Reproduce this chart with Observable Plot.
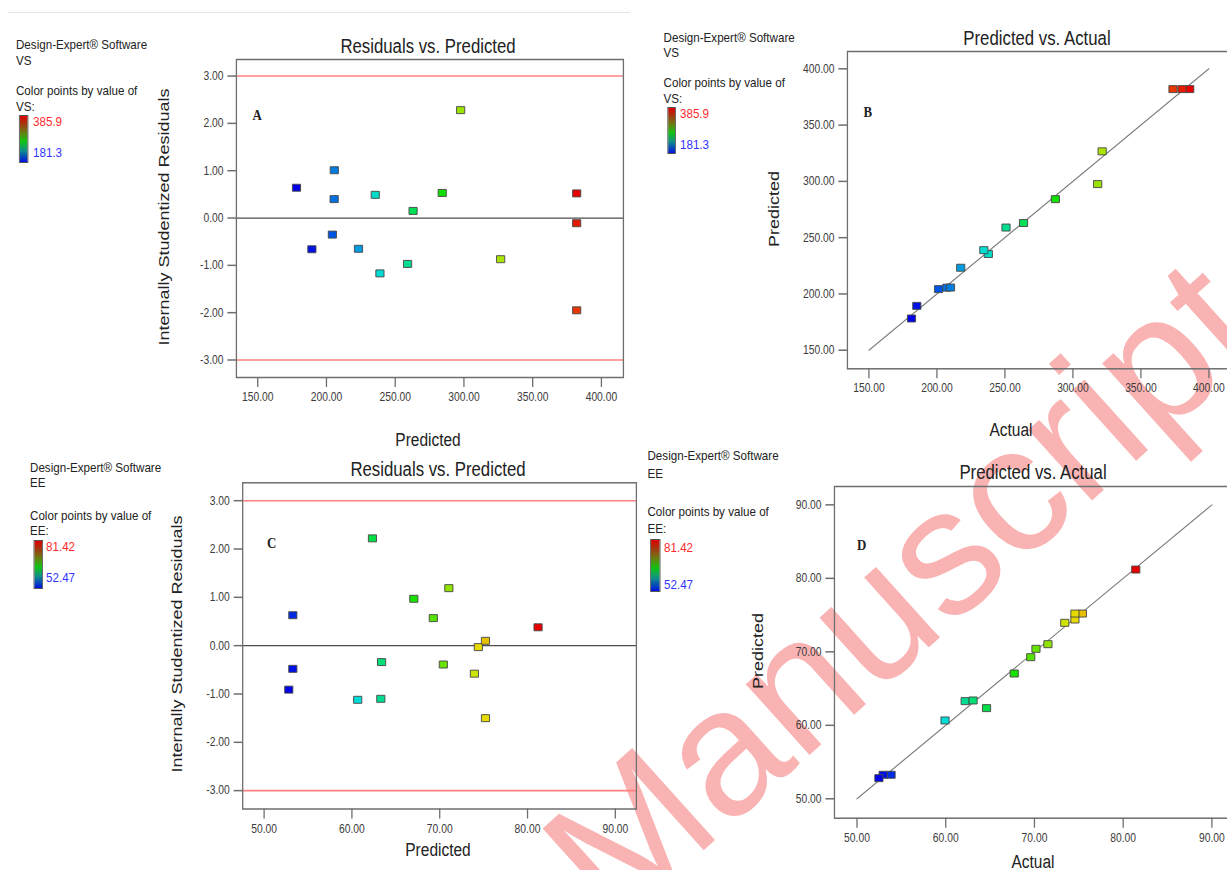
<!DOCTYPE html>
<html><head><meta charset="utf-8">
<script src="https://cdn.jsdelivr.net/npm/d3@7"></script>
<script src="https://cdn.jsdelivr.net/npm/@observablehq/plot@0.6"></script>
<style>
html,body{margin:0;padding:0;background:#fff;width:1227px;height:870px;overflow:hidden;position:relative;}
#sep{position:absolute;left:8px;top:12px;width:622px;height:1px;background:#e4e4e4;}
#wm{position:absolute;left:900px;top:590px;transform:translate(-50%,-50%) rotate(-42deg);font:180px "Liberation Sans",Arial,sans-serif;color:#f9b3b3;white-space:nowrap;z-index:0;line-height:1;}
#stage{position:absolute;left:0;top:0;width:1427px;height:870px;transform:scaleX(0.86);transform-origin:0 0;z-index:1;font-family:"Liberation Sans",Arial,sans-serif;color:#222;}
.t{position:absolute;white-space:nowrap;line-height:1;}
.c{transform:translate(-50%,-50%);}
.l{transform:translateY(-50%);}
.r{transform:translate(-50%,-50%) rotate(-90deg);}
.bar{position:absolute;background:linear-gradient(to bottom,#e00000 0%,#a03a10 18%,#6e7a10 35%,#10c410 55%,#10908a 75%,#0010e0 100%);border:1px solid #555;box-sizing:border-box;}
</style></head><body>
<div id="sep"></div>
<div id="wm">Manuscript</div>
<div id="stage"></div>
<script>
// ---- data: VS ----
const vsActual    = [181.3, 185.2, 201.2, 207.3, 210.0, 217.5, 237.8, 234.5, 250.8, 263.7, 287.1, 318.2, 321.5, 385.9, 380.2, 373.6];
const vsPredicted = [178.2, 189.4, 204.3, 205.6, 205.7, 223.3, 235.5, 238.9, 259.0, 263.0, 284.2, 297.6, 326.7, 382.0, 382.0, 382.0];
const vsResidual  = [0.64, -0.66, -0.35, 0.40, 1.01, -0.65, 0.49, -1.17, -0.97, 0.15, 0.53, 2.28, -0.87, 0.52, -0.11, -1.95];
// ---- data: EE ----
const eeActual    = [53.84, 52.95, 52.47, 59.92, 64.60, 62.19, 63.08, 67.72, 69.58, 70.17, 71.52, 73.42, 74.56, 75.40, 74.56, 81.42];
const eePredicted = [53.27, 53.27, 52.81, 60.66, 62.34, 63.29, 63.38, 67.05, 69.27, 70.41, 71.04, 73.95, 74.40, 75.21, 75.21, 81.20];
const eeResidual  = [0.63, -0.48, -0.91, -1.12, 2.22, -1.10, -0.34, 0.97, 0.57, -0.39, 1.19, -0.58, -0.03, 0.10, -1.50, 0.38];
// ---- ticks & reference lines ----
const vsTicks = [150, 200, 250, 300, 350, 400];
const eeTicks = [50, 60, 70, 80, 90];
const residTicks = [-3, -2, -1, 0, 1, 2, 3];
const limitLines = [-3, 3];
const zeroLine = [0];
const vsDiagonal = [150, 400];
const eeDiagonal = [50, 90];
const rampColors = ["#0000e6", "#00dcdc", "#00e000", "#e6e600", "#e60000"];

const stage = document.getElementById("stage");
const ramp = d3.piecewise(d3.interpolateRgb, rampColors);
const fmt = d => d.toFixed(2);
const rectSym = {draw(ctx) { ctx.rect(-4.75, -3.5, 9.5, 7); }};

function panel(o) {
  const rows = o.xs.map((x, i) => ({x, y: o.ys[i], c: o.cs[i]}));
  const svg = Plot.plot({
    width: o.width, height: o.height,
    marginLeft: o.m[0], marginRight: o.m[1], marginTop: o.m[2], marginBottom: o.m[3],
    x: {domain: o.xDomain},
    y: {domain: o.yDomain},
    color: {type: "linear", domain: [d3.min(o.cs), d3.max(o.cs)], interpolate: ramp},
    style: {background: "transparent", fontFamily: '"Liberation Sans",Arial,sans-serif', fontSize: "12px", overflow: "visible"},
    marks: [
      ...o.extra,
      Plot.frame({stroke: "#6e6e6e", strokeWidth: 1.5}),
      Plot.axisX(o.xTicks, {tickSize: 10, tickPadding: 5, tickFormat: fmt, stroke: "#6e6e6e", strokeWidth: 1.5, fill: "#3c3c3c", label: null}),
      Plot.axisY(o.yTicks, {tickSize: 10, tickPadding: 5, tickFormat: fmt, stroke: "#6e6e6e", strokeWidth: 1.5, fill: "#3c3c3c", label: null}),
      Plot.dot(rows, {x: "x", y: "y", fill: "c", stroke: "#4a4a4a", strokeWidth: 1, symbol: rectSym, r: 4}),
      Plot.text([o.letter], {frameAnchor: "top-left", dx: o.ldx, dy: o.ldy, text: d => d, fontFamily: '"Liberation Serif","Times New Roman",serif', fontWeight: "bold", fontSize: 15, fill: "#222"})
    ]
  });
  svg.style.position = "absolute";
  svg.style.left = o.left + "px";
  svg.style.top = o.top + "px";
  stage.append(svg);
}

function txt(s, x, y, cls, size, color) {
  const d = document.createElement("div");
  d.className = "t " + cls;
  d.textContent = s;
  d.style.left = x + "px"; d.style.top = y + "px";
  d.style.fontSize = size + "px";
  if (color) d.style.color = color;
  stage.append(d);
}
function legend(name, x, ys, bar, numX, numYs, vals, digits) {
  txt("Design-Expert\u00ae Software", x, ys[0], "l", 13.5);
  txt(name, x, ys[1], "l", 13.5);
  txt("Color points by value of", x, ys[2], "l", 13.5);
  txt(name + ":", x, ys[3], "l", 13.5);
  const b = document.createElement("div");
  b.className = "bar";
  Object.assign(b.style, {left: bar[0] + "px", width: bar[1] + "px", top: bar[2] + "px", height: bar[3] + "px"});
  stage.append(b);
  txt(d3.max(vals).toFixed(digits), numX, numYs[0], "l", 13.5, "#ff2a2a");
  txt(d3.min(vals).toFixed(digits), numX, numYs[1], "l", 13.5, "#3333ff");
}

// Panel A: residuals vs predicted (VS)
panel({left: 160, top: 30, width: 580, height: 400, m: [114.4, 15.6, 29, 53],
  xDomain: [134.5, 416], yDomain: [-3.37, 3.35], xTicks: vsTicks, yTicks: residTicks,
  xs: vsPredicted, ys: vsResidual, cs: vsActual, letter: "A", ldx: 18.6, ldy: 50,
  extra: [Plot.ruleY(limitLines, {stroke: "#ff8080", strokeWidth: 1.6}), Plot.ruleY(zeroLine, {stroke: "#4d4d4d", strokeWidth: 1.2})]});
txt("Residuals vs. Predicted", 497.7, 46.7, "c", 19.5);
txt("Predicted", 497.7, 440, "c", 18);
txt("Internally Studentized Residuals", 189.5, 217, "r", 18);
legend("VS", 18.6, [45, 61, 91, 107], [22.1, 11.2, 115, 48], 38.4, [122, 153], vsActual, 1);

// Panel B: predicted vs actual (VS)
panel({left: 900, top: 20, width: 560, height: 390, m: [84.9, 29.5, 31, 41.7],
  xDomain: [134.2, 416], yDomain: [133.5, 415.4], xTicks: vsTicks, yTicks: vsTicks,
  xs: vsActual, ys: vsPredicted, cs: vsActual, letter: "B", ldx: 18.6, ldy: 55,
  extra: [Plot.line(vsDiagonal, {x: d => d, y: d => d, stroke: "#7a7a7a", strokeWidth: 1.2})]});
txt("Predicted vs. Actual", 1205.8, 39, "c", 19.5);
txt("Actual", 1175.6, 430, "c", 18);
txt("Predicted", 899.7, 209, "r", 18);
legend("VS", 771.6, [37.7, 52.7, 83.3, 99], [775.6, 10.8, 107, 47], 790.7, [114, 145], vsActual, 1);

// Panel C: residuals vs predicted (EE)
panel({left: 170, top: 460, width: 590, height: 390, m: [111.7, 20.5, 22.3, 41.5],
  xDomain: [47.56, 92.4], yDomain: [-3.38, 3.37], xTicks: eeTicks, yTicks: residTicks,
  xs: eePredicted, ys: eeResidual, cs: eeActual, letter: "C", ldx: 28.2, ldy: 54.7,
  extra: [Plot.ruleY(limitLines, {stroke: "#ff8080", strokeWidth: 1.6}), Plot.ruleY(zeroLine, {stroke: "#4d4d4d", strokeWidth: 1.2})]});
txt("Residuals vs. Predicted", 509.3, 470, "c", 19.5);
txt("Predicted", 509.3, 850, "c", 18);
txt("Internally Studentized Residuals", 206.4, 644, "r", 18);
legend("EE", 34.9, [468, 483, 516, 531], [39, 11, 540, 49], 53.5, [547, 578], eeActual, 2);

// Panel D: predicted vs actual (EE)
panel({left: 900, top: 460, width: 560, height: 390, m: [69.8, 25.5, 26, 32.3],
  xDomain: [47.46, 92.5], yDomain: [47.36, 92.5], xTicks: eeTicks, yTicks: eeTicks,
  xs: eeActual, ys: eePredicted, cs: eeActual, letter: "D", ldx: 26.1, ldy: 53,
  extra: [Plot.line(eeDiagonal, {x: d => d, y: d => d, stroke: "#7a7a7a", strokeWidth: 1.2})]});
txt("Predicted vs. Actual", 1201.2, 473, "c", 19.5);
txt("Actual", 1201.2, 862, "c", 18);
txt("Predicted", 881.4, 651, "r", 18);
legend("EE", 752.9, [456, 474, 512, 529], [756.4, 11.7, 539, 53], 772.1, [548, 585], eeActual, 2);
</script></body></html>
